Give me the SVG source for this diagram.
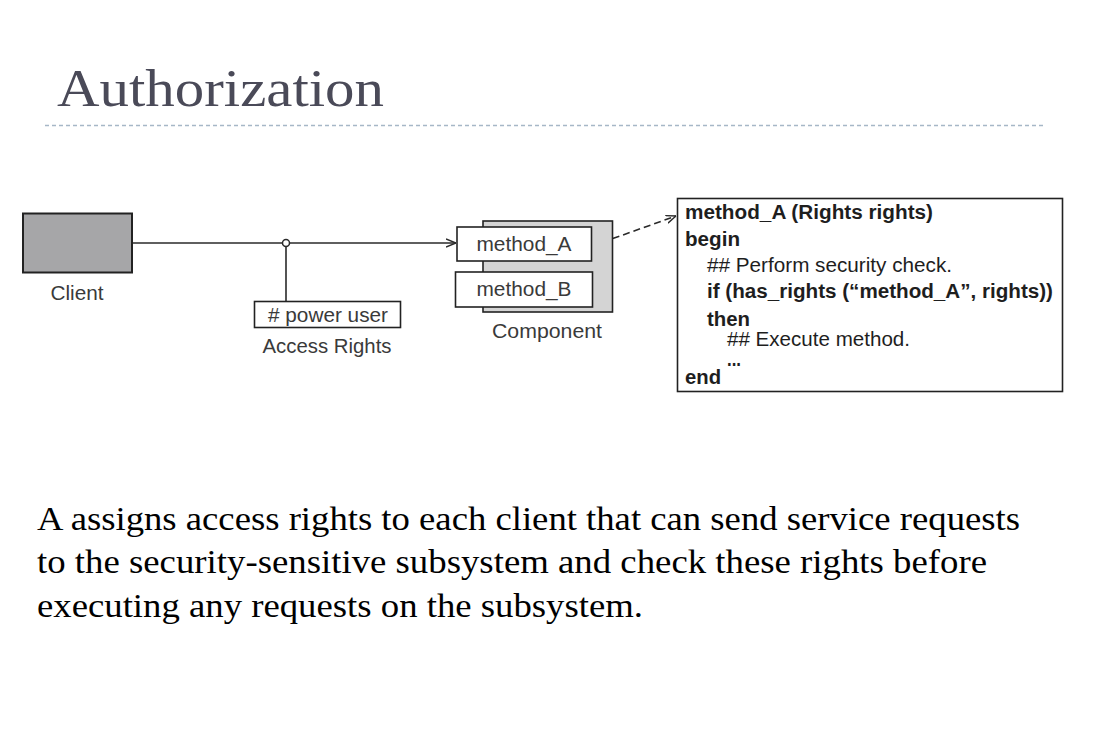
<svg xmlns="http://www.w3.org/2000/svg" width="1093" height="741" viewBox="0 0 1093 741">
<defs>
<style>
.lbl{font-family:"Liberation Sans",Arial,sans-serif;font-size:20px;fill:#3a3a3a}
.code{font-family:"Liberation Sans",Arial,sans-serif;font-size:20px;fill:#1e1e1e}
.b{font-weight:bold}
.body{font-family:"Liberation Serif","Times New Roman",serif;font-size:33px;fill:#000}
.box{fill:#fff;stroke:#222;stroke-width:1.6}
.conn{fill:none;stroke:#2a2a2a;stroke-width:1.6}
</style>
<marker id="open" viewBox="0 0 10 10" refX="10" refY="5" markerWidth="10" markerHeight="10" markerUnits="userSpaceOnUse" orient="auto">
<path d="M0,1 L10,5 L0,9" fill="none" stroke="#2a2a2a" stroke-width="1.4"/>
</marker>
</defs>
<rect width="1093" height="741" fill="#fff"/>
<text x="57" y="106" font-family="'Liberation Serif','Times New Roman',serif" font-size="52" fill="#4a4a58" textLength="327" lengthAdjust="spacingAndGlyphs">Authorization</text>
<line x1="45" y1="125.5" x2="1045" y2="125.5" stroke="#a6b7c7" stroke-width="1.3" stroke-dasharray="4 3"/>

<g id="connectors">
<line class="conn" x1="133" y1="243" x2="456" y2="243" marker-end="url(#open)"/>
<line class="conn" x1="286" y1="246" x2="286" y2="301"/>
<circle cx="286" cy="243" r="3.5" fill="#fff" stroke="#2a2a2a" stroke-width="1.5"/>
<line class="conn" x1="592" y1="246" x2="676" y2="216" stroke-dasharray="7 4" stroke-width="1.8" marker-end="url(#open)"/>
</g>

<g id="client">
<rect x="23" y="213.5" width="109" height="59" fill="#a6a6a8" stroke="#222" stroke-width="2"/>
<text class="lbl" x="77" y="300" text-anchor="middle" textLength="53" lengthAdjust="spacingAndGlyphs">Client</text>
</g>

<g id="access-rights">
<rect class="box" x="254.5" y="301.5" width="146" height="26"/>
<text class="lbl" x="328" y="322" text-anchor="middle" textLength="120" lengthAdjust="spacingAndGlyphs"># power user</text>
<text class="lbl" x="327" y="353" text-anchor="middle" textLength="129" lengthAdjust="spacingAndGlyphs">Access Rights</text>
</g>

<g id="component">
<rect x="483" y="221" width="129.5" height="91" fill="#d4d4d4" stroke="#222" stroke-width="1.6"/>
<rect class="box" x="457" y="227" width="134.5" height="34"/>
<text class="lbl" x="524" y="251" text-anchor="middle" textLength="95" lengthAdjust="spacingAndGlyphs">method_A</text>
<rect class="box" x="455.5" y="272" width="137" height="35"/>
<text class="lbl" x="524" y="296" text-anchor="middle" textLength="95" lengthAdjust="spacingAndGlyphs">method_B</text>
<text class="lbl" x="547" y="338" text-anchor="middle" textLength="110" lengthAdjust="spacingAndGlyphs">Component</text>
</g>

<g id="code">
<rect class="box" x="677.5" y="198.5" width="385" height="193"/>
<text class="code b" x="685" y="219" textLength="248" lengthAdjust="spacingAndGlyphs">method_A (Rights rights)</text>
<text class="code b" x="685" y="246" textLength="55" lengthAdjust="spacingAndGlyphs">begin</text>
<text class="code" x="707" y="272" textLength="245" lengthAdjust="spacingAndGlyphs">## Perform security check.</text>
<text class="code b" x="707" y="298" textLength="346" lengthAdjust="spacingAndGlyphs">if (has_rights (“method_A”, rights))</text>
<text class="code b" x="707" y="326" textLength="43" lengthAdjust="spacingAndGlyphs">then</text>
<text class="code" x="727" y="346" textLength="183" lengthAdjust="spacingAndGlyphs">## Execute method.</text>
<text class="code b" x="727" y="366" font-size="10" textLength="14" lengthAdjust="spacingAndGlyphs">...</text>
<text class="code b" x="685" y="384" textLength="36" lengthAdjust="spacingAndGlyphs">end</text>
</g>

<g id="body">
<text class="body" x="37" y="530" textLength="983" lengthAdjust="spacingAndGlyphs">A assigns access rights to each client that can send service requests</text>
<text class="body" x="37" y="573" textLength="950" lengthAdjust="spacingAndGlyphs">to the security-sensitive subsystem and check these rights before</text>
<text class="body" x="37" y="617" textLength="606" lengthAdjust="spacingAndGlyphs">executing any requests on the subsystem.</text>
</g>
</svg>
